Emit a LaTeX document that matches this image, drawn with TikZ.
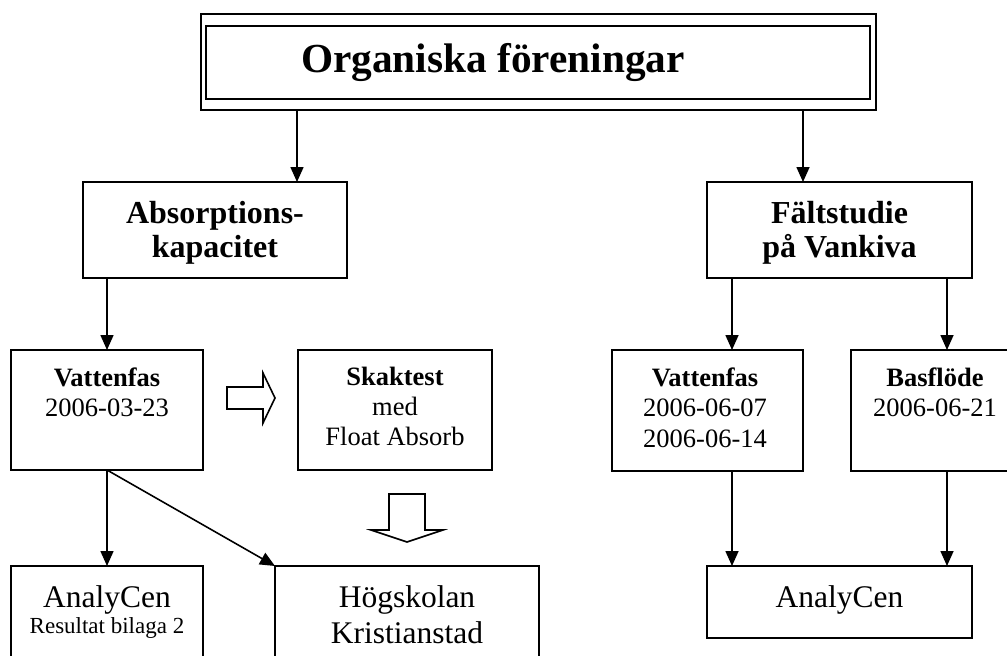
\documentclass[tikz,border=0pt]{standalone}
\usepackage{fontspec}
\setmainfont{Liberation Serif}
\usetikzlibrary{arrows.meta,calc}
\begin{document}
\begin{tikzpicture}[x=1pt,y=-1pt,
  box/.style={draw,line width=1.8pt,inner sep=0pt,outer sep=0pt},
  arr/.style={line width=1.6pt,-{Triangle[width=13pt,length=15pt]}},
  hollow/.style={draw,line width=1.6pt,fill=white,line join=miter},
  txt/.style={anchor=base,inner sep=0pt},
  ttl/.style={txt,font=\bfseries\fontsize{41.3}{48}\selectfont},
  big/.style={txt,font=\bfseries\fontsize{32}{36}\selectfont},
  sbold/.style={txt,font=\bfseries\fontsize{26.5}{30}\selectfont},
  sreg/.style={txt,font=\fontsize{26.5}{30}\selectfont},
  lreg/.style={txt,font=\fontsize{31.5}{36}\selectfont},
  tiny/.style={txt,font=\fontsize{23}{26}\selectfont}]
\useasboundingbox (0,0) rectangle (1007,656);
\begin{scope}
\clip (0,0) rectangle (1007,656);
% boxes
\node[box,line width=1.4pt,minimum width=675pt,minimum height=96pt] (tout) at (538.5,62) {};
\node[box,line width=2.5pt,minimum width=664pt,minimum height=73pt] (tin) at (538,62.5) {};
\node[box,minimum width=264pt,minimum height=96pt] (abs) at (215,230) {};
\node[box,minimum width=265pt,minimum height=96pt] (fs) at (839.5,230) {};
\node[box,minimum width=192pt,minimum height=120pt] (vatL) at (107,410) {};
\node[box,minimum width=194pt,minimum height=120pt] (skak) at (395,410) {};
\node[box,minimum width=191pt,minimum height=121pt] (vatR) at (707.5,410.5) {};
\node[box,minimum width=168pt,minimum height=121pt] (bas) at (935,410.5) {};
\node[box,minimum width=192pt,minimum height=114pt] (anL) at (107,623) {};
\node[box,minimum width=264pt,minimum height=114pt] (hog) at (407,623) {};
\node[box,minimum width=265pt,minimum height=72pt] (anR) at (839.5,602) {};
% texts
\node[ttl] (t1) at (493,72) {Organiska föreningar};
\node[big] (a1) at (215,223) {Absorptions-};
\node[big] (a2) at (215,257) {kapacitet};
\node[big] (f1) at (839.5,223) {Fältstudie};
\node[big] (f2) at (839.5,257) {på Vankiva};
\node[sbold] (v1) at (107,386) {Vattenfas};
\node[sreg] (v2) at (107,416) {2006-03-23};
\node[sbold] (s1) at (395,385) {Skaktest};
\node[sreg] (s2) at (395,415) {med};
\node[sreg] (s3) at (395,445) {Float Absorb};
\node[sbold] (w1) at (705,386) {Vattenfas};
\node[sreg] (w2) at (705,416) {2006-06-07};
\node[sreg] (w3) at (705,447) {2006-06-14};
\node[sbold] (b1) at (935,386) {Basflöde};
\node[sreg] (b2) at (935,416) {2006-06-21};
\node[lreg] (l1) at (107,607) {AnalyCen};
\node[tiny] (l2) at (107,633) {Resultat bilaga 2};
\node[lreg] (h1) at (407,607) {Högskolan};
\node[lreg] (h2) at (407,643) {Kristianstad};
\node[lreg] (r1) at (839.5,607) {AnalyCen};
% connector columns
\coordinate (cA) at (297,0);
\coordinate (cF) at (803,0);
\coordinate (cV) at (732,0);
\coordinate (cB) at (947,0);
% connectors
\draw[arr] (tout.south -| cA) -- (abs.north -| cA);
\draw[arr] (tout.south -| cF) -- (fs.north -| cF);
\draw[arr] (abs.south -| vatL.north) -- (vatL.north);
\draw[arr] (fs.south -| cV) -- (vatR.north -| cV);
\draw[arr] (fs.south -| cB) -- (bas.north -| cB);
\draw[arr] (vatR.south -| cV) -- (anR.north -| cV);
\draw[arr] (bas.south -| cB) -- (anR.north -| cB);
\draw[arr] (vatL.south) -- (anL.north);
\draw[arr] (vatL.south) -- (hog.north west);
% hollow block arrows
\draw[hollow] (227,387) -- (263,387) -- (263,373) -- (275,398) -- (263,423) -- (263,409) -- (227,409) -- cycle;
\draw[hollow] (389,494) -- (425,494) -- (425,530) -- (443,530) -- (407,542) -- (371,530) -- (389,530) -- cycle;
\end{scope}
\end{tikzpicture}
\end{document}
